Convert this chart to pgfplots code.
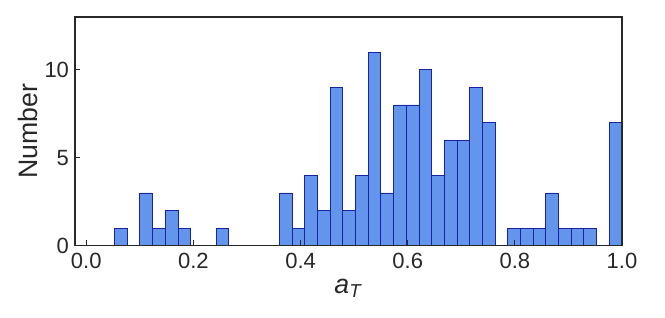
\documentclass[border=0pt]{standalone}
\usepackage{pgfplots}
\pgfplotsset{compat=1.18}
\usepackage{fontspec}
\setmainfont{Liberation Sans}
\definecolor{barfill}{RGB}{100,149,237}
\definecolor{baredge}{RGB}{25,35,160}
\definecolor{spine}{RGB}{40,40,40}
\begin{document}
\begin{tikzpicture}
\begin{axis}[
  name=ax,
  scale only axis,
  width=410pt, height=171.5pt,
  xmin=-0.021, xmax=1.0, ymin=0, ymax=13,
  xtick={0,0.2,0.4,0.6,0.8,1.0},
  xticklabels={0.0,0.2,0.4,0.6,0.8,1.0},
  ytick={0,5,10},
  tick align=inside, major tick length=4pt,
  xtick pos=bottom, ytick pos=left,
  tick style={spine, line width=0.8pt},
  axis line style={spine, line width=1pt},
  axis on top,
  ticklabel style={font=\fontsize{16.5}{19}\selectfont, text=spine},
  xticklabel style={yshift=-2pt},
  yticklabel style={xshift=-1pt},
  /pgf/number format/assume math mode=true,
  xlabel={\textit{a}\textsubscript{\textit{T}}},
  ylabel={Number},
  label style={font=\fontsize{20}{24}\selectfont, text=spine},
  xlabel style={yshift=-1pt},
  ylabel style={yshift=-2pt},
]
\addplot[ybar interval, fill=barfill, draw=baredge, line width=0.7pt] coordinates {
  (0.05280,1) (0.07648,0) (0.10016,3) (0.12384,1) (0.14752,2)
  (0.17120,1) (0.19488,0) (0.21856,0) (0.24224,1) (0.26592,0)
  (0.28960,0) (0.31328,0) (0.33696,0) (0.36064,3) (0.38432,1)
  (0.40800,4) (0.43168,2) (0.45536,9) (0.47904,2) (0.50272,4)
  (0.52640,11) (0.55008,3) (0.57376,8) (0.59744,8) (0.62112,10)
  (0.64480,4) (0.66848,6) (0.69216,6) (0.71584,9) (0.73952,7)
  (0.76320,0) (0.78688,1) (0.81056,1) (0.83424,1) (0.85792,3)
  (0.88160,1) (0.90528,1) (0.92896,1) (0.95264,0) (0.97632,7)
  (1.00000,7)
};
\end{axis}
\path (ax.south west) +(-56.25pt,-53.45pt) (ax.north east) +(32.25pt,12.75pt);
\end{tikzpicture}
\end{document}
